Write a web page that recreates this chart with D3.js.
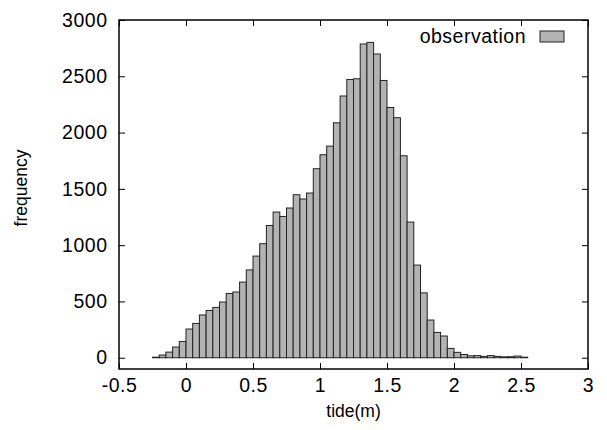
<!DOCTYPE html>
<html>
<head>
<meta charset="utf-8">
<script src="https://cdn.jsdelivr.net/npm/d3@7"></script>
<style>
  body { margin: 0; background: #fff; }
  text { font-family: "Liberation Sans", Arial, Helvetica, sans-serif; fill: #000; }
</style>
</head>
<body>
<div id="chart"></div>
<script>
// lower edge of each tide bin (m), bin width 0.05
var binLow = [-0.25, -0.2, -0.15, -0.1, -0.05, 0, 0.05, 0.1, 0.15, 0.2,
  0.25, 0.3, 0.35, 0.4, 0.45, 0.5, 0.55, 0.6, 0.65, 0.7,
  0.75, 0.8, 0.85, 0.9, 0.95, 1.0, 1.05, 1.1, 1.15, 1.2,
  1.25, 1.3, 1.35, 1.4, 1.45, 1.5, 1.55, 1.6, 1.65, 1.7,
  1.75, 1.8, 1.85, 1.9, 1.95, 2.0, 2.05, 2.1, 2.15, 2.2,
  2.25, 2.3, 2.35, 2.4, 2.45, 2.5];
var binWidth = 0.05;
var frequency = [5, 24, 50, 95, 145, 255, 305, 380, 420, 447,
  495, 571, 584, 672, 780, 903, 1013, 1175, 1294, 1255,
  1330, 1448, 1410, 1463, 1679, 1803, 1880, 2087, 2325, 2472,
  2478, 2787, 2801, 2698, 2463, 2223, 2132, 1794, 1205, 823,
  576, 335, 225, 193, 83, 48, 29, 17, 19, 12,
  19, 12, 8, 9, 15, 5];
var xTicks = [-0.5, 0, 0.5, 1, 1.5, 2, 2.5, 3];
var yTicks = [0, 500, 1000, 1500, 2000, 2500, 3000];
var seriesName = "observation";

var W = 607, H = 430;
var margin = {top: 20, right: 19, bottom: 61, left: 119};

var svg = d3.select("#chart").append("svg")
    .attr("width", W)
    .attr("height", H);

var x = d3.scaleLinear().domain([-0.5, 3]).range([margin.left, W - margin.right]);
var y = d3.scaleLinear().domain([-100, 3000]).range([H - margin.bottom, margin.top]);

// bars
svg.append("g").selectAll("rect")
    .data(frequency)
    .enter().append("rect")
    .attr("x", (d, i) => x(binLow[i]))
    .attr("y", d => y(d))
    .attr("width", (d, i) => x(binLow[i] + binWidth) - x(binLow[i]))
    .attr("height", d => y(0) - y(d))
    .attr("fill", "#b3b3b3")
    .attr("stroke", "#222")
    .attr("stroke-width", 1);

// axes, ticks pointing inward on all sides
function styleAxis(g) {
  g.select(".domain").remove();
  g.selectAll(".tick line").attr("stroke", "#000").attr("stroke-width", 1);
  g.selectAll(".tick text")
    .style("font-size", "19.5px")
    .style("letter-spacing", "0.5px");
}

var fmt = d => d.toString();

svg.append("g")
    .attr("transform", "translate(0," + (H - margin.bottom) + ")")
    .call(d3.axisBottom(x).tickValues(xTicks).tickSize(-6).tickPadding(9).tickFormat(fmt))
    .call(styleAxis);

svg.append("g")
    .attr("transform", "translate(0," + margin.top + ")")
    .call(d3.axisTop(x).tickValues(xTicks).tickSize(-6).tickFormat(""))
    .call(styleAxis);

svg.append("g")
    .attr("transform", "translate(" + margin.left + ",0)")
    .call(d3.axisLeft(y).tickValues(yTicks).tickSize(-6).tickPadding(11.5).tickFormat(fmt))
    .call(styleAxis);

svg.append("g")
    .attr("transform", "translate(" + (W - margin.right) + ",0)")
    .call(d3.axisRight(y).tickValues(yTicks).tickSize(-6).tickFormat(""))
    .call(styleAxis);

// frame
svg.append("rect")
    .attr("x", margin.left)
    .attr("y", margin.top)
    .attr("width", W - margin.left - margin.right)
    .attr("height", H - margin.top - margin.bottom)
    .attr("fill", "none")
    .attr("stroke", "#000")
    .attr("stroke-width", 1.5);

// axis titles
svg.append("text")
    .text("tide(m)")
    .attr("x", (margin.left + W - margin.right) / 2)
    .attr("y", 417)
    .attr("text-anchor", "middle")
    .style("font-size", "17.5px");

svg.append("text")
    .text("frequency")
    .attr("transform", "translate(27,188) rotate(-90)")
    .attr("text-anchor", "middle")
    .style("font-size", "17.5px");

// legend
svg.append("text")
    .text(seriesName)
    .attr("x", 526)
    .attr("y", 43)
    .attr("text-anchor", "end")
    .style("font-size", "19.5px")
    .style("letter-spacing", "0.5px");

svg.append("rect")
    .attr("x", 540)
    .attr("y", 31)
    .attr("width", 24)
    .attr("height", 11)
    .attr("fill", "#b3b3b3")
    .attr("stroke", "#222")
    .attr("stroke-width", 1);
</script>
</body>
</html>
